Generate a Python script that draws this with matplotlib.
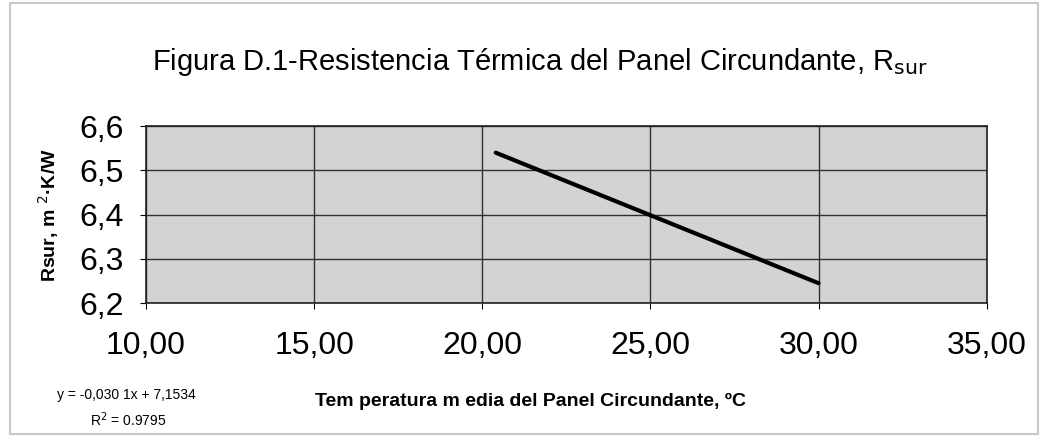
import matplotlib.pyplot as plt
from matplotlib.patches import Rectangle

plt.rcParams['font.family'] = ['Liberation Sans', 'DejaVu Sans']

# trend line endpoints
temp = [20.4, 30.0]
rsur = [6.54, 6.245]

x_ticks = [10, 15, 20, 25, 30, 35]
x_labels = ['10,00', '15,00', '20,00', '25,00', '30,00', '35,00']
y_ticks = [6.2, 6.3, 6.4, 6.5, 6.6]
y_labels = ['6,2', '6,3', '6,4', '6,5', '6,6']

fig = plt.figure(figsize=(10.43, 4.38), dpi=100)
ax = fig.add_axes([0.140, 0.308, 0.806, 0.404])

ax.set_facecolor('#d3d3d3')
ax.plot(temp, rsur, color='black', linewidth=3, solid_capstyle='round')

ax.set_xlim(10, 35)
ax.set_ylim(6.2, 6.6)
ax.set_xticks(x_ticks)
ax.set_xticklabels(x_labels, fontsize=23)
ax.set_yticks(y_ticks)
ax.set_yticklabels(y_labels, fontsize=23)
ax.tick_params(axis='x', pad=16, length=4)
ax.tick_params(axis='y', pad=12, length=4)

ax.grid(True, color='#303030', linewidth=1)
ax.set_axisbelow(True)
for s in ax.spines.values():
    s.set_color('#202020')
    s.set_linewidth(1.2)

ax.set_ylabel('Rsur, m $^{2}$·K/W', fontsize=14, fontweight='bold')
ax.yaxis.set_label_coords(-0.101, 0.5)
ax.set_xlabel('Tem peratura m edia del Panel Circundante, ºC', fontsize=14,
              fontweight='bold')
ax.xaxis.set_label_coords(0.457, -0.505)

fig.text(0.518, 0.858, 'Figura D.1-Resistencia Térmica del Panel Circundante, R$_{\\rm sur}$',
         ha='center', va='center', fontsize=21)

fig.text(0.121, 0.098, 'y = -0,030 1x + 7,1534', ha='center', va='center', fontsize=10)
fig.text(0.123, 0.041, 'R$^{2}$ = 0.9795', ha='center', va='center', fontsize=10)

# faint frame of the scanned chart
fig.patches.append(Rectangle((0.01, 0.008), 0.985, 0.985, transform=fig.transFigure,
                             fill=False, edgecolor='#c8c8c8', linewidth=1.5))

plt.savefig('out.png', dpi=100)
